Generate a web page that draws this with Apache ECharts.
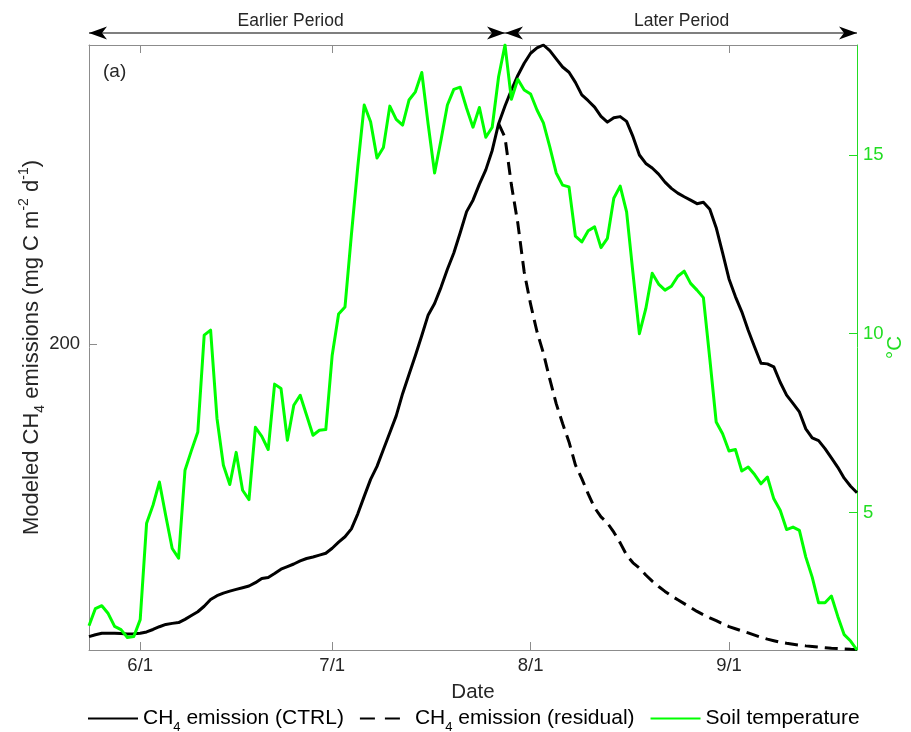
<!DOCTYPE html>
<html>
<head>
<meta charset="utf-8">
<script src="https://cdn.jsdelivr.net/npm/echarts@6/dist/echarts.min.js"></script>
<style>
  html, body { margin: 0; padding: 0; background: #ffffff; }
  #chart { width: 911px; height: 732px; }
</style>
</head>
<body>
<div id="chart"></div>
<script>
// Daily series, day-of-year 144 (24 May) through 264 (21 Sep)
const startDay = 144;
const endDay = 264;

// Month ticks on the date axis
const monthTickDays = [152, 182, 213, 244];
const monthTickLabels = ['6/1', '7/1', '8/1', '9/1'];

// Ticks on the two value axes
const ch4TickValues = [200];
const tempTickValues = [5, 10, 15];

// Soil temperature (°C), one value per day from startDay
const soilTemperature = [
  1.83, 2.31, 2.39, 2.17, 1.81, 1.72, 1.50, 1.53, 2.00, 4.70,
  5.20, 5.85, 4.90, 3.99, 3.72, 6.18, 6.73, 7.25, 9.96, 10.10,
  7.63, 6.32, 5.78, 6.68, 5.62, 5.36, 7.38, 7.13, 6.76, 8.59,
  8.47, 7.02, 8.00, 8.28, 7.72, 7.16, 7.30, 7.32, 9.40, 10.55,
  10.75, 12.77, 14.68, 16.40, 15.93, 14.92, 15.21, 16.37, 16.00, 15.84,
  16.54, 16.77, 17.31, 15.85, 14.50, 15.42, 16.40, 16.84, 16.90, 16.31,
  15.78, 16.33, 15.50, 15.78, 17.19, 18.08, 16.56, 17.12, 16.82, 16.71,
  16.26, 15.90, 15.23, 14.50, 14.16, 14.11, 12.73, 12.57, 12.88, 12.99,
  12.41, 12.67, 13.79, 14.13, 13.41, 11.69, 10.00, 10.70, 11.69, 11.39,
  11.22, 11.33, 11.61, 11.75, 11.41, 11.22, 11.01, 9.30, 7.53, 7.20,
  6.72, 6.76, 6.16, 6.27, 6.06, 5.80, 5.99, 5.38, 5.06, 4.52,
  4.59, 4.50, 3.75, 3.19, 2.47, 2.47, 2.66, 2.09, 1.58, 1.40,
  1.15
];

// Modeled CH4 emission, control run (mg C m-2 d-1), one value per day from startDay
const ch4Ctrl = [
  8.7, 10.0, 10.9, 10.9, 10.9, 10.8, 10.5, 10.6, 10.9, 11.8,
  13.4, 15.2, 16.7, 17.4, 17.9, 20.0, 22.5, 25.0, 28.6, 33.0,
  35.5, 37.2, 38.5, 39.6, 40.7, 41.8, 44.0, 46.8, 47.4, 50.0,
  52.8, 54.5, 56.2, 58.2, 59.8, 60.8, 62.0, 63.2, 66.5, 70.5,
  74.0, 79.2, 89.0, 100.4, 111.5, 120.0, 131.0, 142.0, 153.0, 167.5,
  180.0, 192.5, 205.5, 219.0, 226.5, 237.0, 248.8, 259.5, 272.7, 286.5,
  294.0, 304.5, 313.8, 326.5, 344.0, 355.5, 366.0, 375.5, 383.5, 390.0,
  393.5, 395.4, 391.7, 386.3, 381.0, 377.6, 371.0, 362.8, 359.0, 354.8,
  348.8, 345.0, 347.9, 348.6, 345.5, 335.5, 323.5, 318.0, 315.0, 311.0,
  305.8, 301.7, 298.6, 296.2, 294.0, 291.7, 292.6, 288.0, 276.0, 259.5,
  242.5, 231.0, 221.0, 209.0, 198.0, 187.4, 187.0, 185.0, 175.0, 166.6,
  161.2, 155.6, 144.5, 138.6, 136.8, 131.6, 125.5, 119.4, 112.3, 107.0,
  102.8
];

// Residual CH4 emission, one value per day from residualStartDay
const residualStartDay = 208;
const ch4Residual = [
  344, 335, 304, 279, 247, 226, 208, 194, 177, 161,
  148, 136, 121, 112, 102, 93, 87, 83, 77, 70,
  62, 57, 53.5, 49, 45, 41.5, 38.3, 35.4, 32.8, 30.3,
  27.8, 25.2, 23, 21, 19.2, 17.2, 15.3, 13.9, 12.5, 11.2,
  9.7, 8.3, 7.1, 6.1, 5.1, 4.4, 3.8, 3.2, 2.7, 2.3,
  1.9, 1.5, 1.1, 0.9, 0.7, 0.5, 0.4
];

// Period annotation above the plot
const periodSplitDay = 209;
const periodNames = ['Earlier Period', 'Later Period'];
const periodLabelDays = [175.5, 236.6];

const seriesNames = ['CH4 emission (CTRL)', 'CH4 emission (residual)', 'Soil temperature'];

const FONT = '"Liberation Sans", Arial, Helvetica, sans-serif';
const AXIS_GRAY = '#8c8c8c';
const TEXT_DARK = '#262626';
const GREEN = '#00ff00';
const GREEN_AXIS = '#22dd22';

function toPairs(values, firstDay) {
  return values.map((v, i) => [firstDay + i, v]);
}

// "CH4 ..." -> rich text with a subscript 4
function richName(name) {
  if (name.indexOf('CH4') === 0) {
    return '{n|CH}{s|4}{n|' + name.slice(3) + '}';
  }
  return '{n|' + name + '}';
}

const chart = echarts.init(document.getElementById('chart'), null, { renderer: 'canvas' });

const option = {
  animation: false,
  backgroundColor: '#ffffff',
  textStyle: { fontFamily: FONT },
  grid: { left: 89, right: 54, top: 45, bottom: 82, containLabel: false, outerBoundsMode: 'none' },
  xAxis: [
    {
      type: 'value',
      position: 'bottom',
      min: startDay,
      max: endDay,
      axisLine: { show: true, onZero: false, lineStyle: { color: AXIS_GRAY, width: 1 } },
      axisTick: { show: true, inside: true, length: 8, customValues: monthTickDays, lineStyle: { color: AXIS_GRAY } },
      axisLabel: {
        customValues: monthTickDays,
        formatter: v => monthTickLabels[monthTickDays.indexOf(v)],
        color: TEXT_DARK, fontSize: 18.5, fontFamily: FONT, margin: 6
      },
      splitLine: { show: false },
      name: 'Date',
      nameLocation: 'middle',
      nameGap: 32,
      nameMoveOverlap: false,
      nameTextStyle: { fontSize: 20.5, color: TEXT_DARK, fontFamily: FONT }
    },
    {
      type: 'value',
      position: 'top',
      min: startDay,
      max: endDay,
      axisLine: { show: true, onZero: false, lineStyle: { color: AXIS_GRAY, width: 1 } },
      axisTick: { show: true, inside: true, length: 8, customValues: monthTickDays, lineStyle: { color: AXIS_GRAY } },
      axisLabel: { show: false },
      splitLine: { show: false }
    }
  ],
  yAxis: [
    {
      type: 'value',
      position: 'left',
      min: 0,
      max: Math.max(...ch4Ctrl),
      axisLine: { show: true, onZero: false, lineStyle: { color: AXIS_GRAY, width: 1 } },
      axisTick: { show: true, inside: true, length: 8, customValues: ch4TickValues, lineStyle: { color: AXIS_GRAY } },
      axisLabel: { customValues: ch4TickValues, color: TEXT_DARK, fontSize: 18.5, fontFamily: FONT, margin: 9 },
      splitLine: { show: false },
      name: '{n|Modeled CH}{s|4}{n| emissions (mg C m}{p|-2}{n| d}{p|-1}{n|)}',
      nameLocation: 'middle',
      nameRotate: 90,
      nameGap: 42,
      nameMoveOverlap: false,
      nameTextStyle: {
        color: TEXT_DARK,
        fontFamily: FONT,
        rich: {
          n: { fontSize: 22, lineHeight: 30, color: TEXT_DARK, fontFamily: FONT },
          s: { fontSize: 14, lineHeight: 11, verticalAlign: 'bottom', color: TEXT_DARK, fontFamily: FONT },
          p: { fontSize: 14, lineHeight: 19, verticalAlign: 'top', color: TEXT_DARK, fontFamily: FONT }
        }
      }
    },
    {
      type: 'value',
      position: 'right',
      min: Math.min(...soilTemperature),
      max: Math.max(...soilTemperature),
      axisLine: { show: true, onZero: false, lineStyle: { color: GREEN_AXIS, width: 1 } },
      axisTick: { show: true, inside: true, length: 8, customValues: tempTickValues, lineStyle: { color: GREEN_AXIS } },
      axisLabel: { customValues: tempTickValues, color: GREEN_AXIS, fontSize: 18.5, fontFamily: FONT, margin: 6 },
      splitLine: { show: false },
      name: '°C',
      nameLocation: 'middle',
      nameRotate: 90,
      nameGap: 28,
      nameMoveOverlap: false,
      nameTextStyle: { color: GREEN_AXIS, fontSize: 20.5, fontFamily: FONT }
    }
  ],
  legend: {
    left: 82,
    top: 703,
    itemWidth: 50,
    itemHeight: 14,
    itemGap: 15,
    itemStyle: { opacity: 0 },
    data: [
      { name: seriesNames[0] },
      { name: seriesNames[1], lineStyle: { type: [15, 10] } },
      { name: seriesNames[2] }
    ],
    formatter: richName,
    textStyle: {
      color: '#000000',
      fontFamily: FONT,
      rich: {
        n: { fontSize: 21, lineHeight: 30, color: '#000000', fontFamily: FONT },
        s: { fontSize: 13, lineHeight: 11, verticalAlign: 'bottom', color: '#000000', fontFamily: FONT }
      }
    }
  },
  series: [
    {
      name: seriesNames[0],
      type: 'line',
      xAxisIndex: 0,
      yAxisIndex: 0,
      data: toPairs(ch4Ctrl, startDay),
      showSymbol: false,
      symbol: 'none',
      lineStyle: { color: '#000000', width: 3, join: 'round' },
      itemStyle: { color: '#000000' },
      z: 2
    },
    {
      name: seriesNames[1],
      type: 'line',
      xAxisIndex: 0,
      yAxisIndex: 0,
      data: toPairs(ch4Residual, residualStartDay),
      showSymbol: false,
      symbol: 'none',
      lineStyle: { color: '#000000', width: 3, type: [13, 7], join: 'round' },
      itemStyle: { color: '#000000' },
      z: 2
    },
    {
      name: seriesNames[2],
      type: 'line',
      xAxisIndex: 0,
      yAxisIndex: 1,
      data: toPairs(soilTemperature, startDay),
      showSymbol: false,
      symbol: 'none',
      lineStyle: { color: GREEN, width: 3, join: 'round' },
      itemStyle: { color: GREEN },
      z: 3
    }
  ]
};

chart.setOption(option);

// Period arrows and labels above the plot, placed from the date axis
const px = d => chart.convertToPixel({ xAxisIndex: 0 }, d);
const arrowY = 33;
const xStart = px(startDay);
const xSplit = px(periodSplitDay);
const xEnd = px(endDay);

function arrowHead(tipX, dir) {
  return {
    type: 'polygon',
    shape: {
      points: [
        [tipX, arrowY],
        [tipX - dir * 18, arrowY - 6.5],
        [tipX - dir * 13, arrowY],
        [tipX - dir * 18, arrowY + 6.5]
      ]
    },
    style: { fill: '#000000' },
    silent: true
  };
}

const annotation = [
  { type: 'line', shape: { x1: xStart, y1: arrowY, x2: xSplit, y2: arrowY }, style: { stroke: '#000000', lineWidth: 1.2 }, silent: true },
  { type: 'line', shape: { x1: xSplit, y1: arrowY, x2: xEnd, y2: arrowY }, style: { stroke: '#000000', lineWidth: 1.2 }, silent: true },
  arrowHead(xStart, -1),
  arrowHead(xSplit, 1),
  arrowHead(xSplit, -1),
  arrowHead(xEnd, 1),
  {
    type: 'text', x: px(periodLabelDays[0]), y: 21, silent: true,
    style: { text: periodNames[0], fontSize: 17.5, fontFamily: FONT, fill: TEXT_DARK, align: 'center', verticalAlign: 'middle' }
  },
  {
    type: 'text', x: px(periodLabelDays[1]), y: 21, silent: true,
    style: { text: periodNames[1], fontSize: 17.5, fontFamily: FONT, fill: TEXT_DARK, align: 'center', verticalAlign: 'middle' }
  },
  {
    type: 'text', x: 103, y: 72, silent: true,
    style: { text: '(a)', fontSize: 19, fontFamily: FONT, fill: TEXT_DARK, align: 'left', verticalAlign: 'middle' }
  }
];

chart.setOption({ graphic: annotation });
</script>
</body>
</html>
